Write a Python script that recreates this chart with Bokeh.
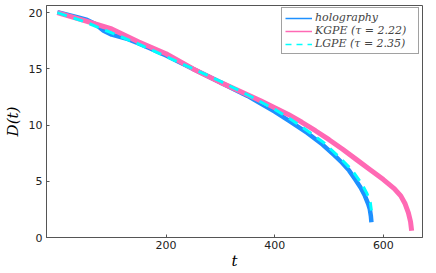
from bokeh.plotting import figure
from bokeh.models import Range1d, Legend, LegendItem, FixedTicker
from bokeh.embed import file_html
from bokeh.resources import INLINE
import math

# holography
holo_t = [0, 20, 40, 55, 70, 85, 100, 115, 130, 145, 170, 200, 250, 300, 350, 368, 400, 428, 460, 488, 510, 524, 537, 548, 558, 566, 572, 575, 577, 578]
holo_d = [20.05, 19.8, 19.55, 19.35, 19.0, 18.4, 18.05, 17.85, 17.65, 17.35, 16.85, 16.2, 15.0, 13.8, 12.6, 12.1, 11.2, 10.33, 9.3, 8.27, 7.3, 6.65, 5.95, 5.18, 4.45, 3.71, 3.0, 2.53, 1.9, 1.36]
# KGPE (tau = 2.22)
kg_t = [0, 50, 100, 150, 200, 250, 300, 350, 375, 400, 425, 450, 475, 500, 525, 550, 575, 600, 620, 632, 640, 646, 650, 652]
kg_d = [20.0, 19.3, 18.55, 17.4, 16.35, 15.0, 13.8, 12.7, 12.15, 11.55, 10.95, 10.25, 9.5, 8.7, 7.85, 6.95, 6.05, 5.15, 4.35, 3.7, 3.0, 2.2, 1.4, 0.6]
# LGPE (tau = 2.35)
lg_t = [0, 50, 100, 150, 200, 250, 300, 350, 400, 430, 460, 490, 520, 542, 560, 570, 576, 578]
lg_d = [20.0, 19.2, 18.2, 17.2, 16.1, 15.0, 13.9, 12.7, 11.4, 10.5, 9.5, 8.45, 7.1, 6.0, 4.8, 3.9, 3.1, 2.4]

labels = ["holography", "KGPE (\u03c4 = 2.22)", "LGPE (\u03c4 = 2.35)"]
x_ticks = [200, 400, 600]
y_ticks = [0, 5, 10, 15, 20]

BLUE = "#1E90FF"
PINK = "#FF69B4"
CYAN = "#00FFFF"

p = figure(width=424, height=272, output_backend="svg", toolbar_location=None,
           x_range=Range1d(-20, 672), y_range=Range1d(0, 20.64),
           min_border_left=37, min_border_right=2, min_border_top=5, min_border_bottom=30)

p.line(holo_t, holo_d, line_color=BLUE, line_width=4.5)
p.line(kg_t, kg_d, line_color=PINK, line_width=5)
p.line(lg_t, lg_d, line_color=CYAN, line_width=3, line_dash="10 7")

nan = [math.nan]
r1 = p.line(nan, nan, line_color=BLUE, line_width=1.5)
r2 = p.line(nan, nan, line_color=PINK, line_width=1.5)
r3 = p.line(nan, nan, line_color=CYAN, line_width=1.5, line_dash="6 5")

legend = Legend(items=[LegendItem(label=labels[0], renderers=[r1]),
                       LegendItem(label=labels[1], renderers=[r2]),
                       LegendItem(label=labels[2], renderers=[r3])],
                location=(235, 183))
legend.label_text_font = "DejaVu Serif"
legend.label_text_font_style = "italic"
legend.label_text_font_size = "11px"
legend.label_height = 10
legend.label_width = 100
legend.glyph_height = 10
legend.glyph_width = 27
legend.spacing = 0
legend.padding = 3
legend.margin = 0
legend.label_standoff = 3
legend.border_line_color = "#444444"
legend.border_line_width = 1
legend.background_fill_alpha = 1.0
p.add_layout(legend, "center")

p.xgrid.visible = False
p.ygrid.visible = False
p.outline_line_color = "#555555"
p.outline_line_width = 1

for ax in (p.xaxis[0], p.yaxis[0]):
    ax.axis_line_color = "#555555"
    ax.major_tick_in = 3
    ax.major_tick_out = 0
    ax.minor_tick_line_color = None
    ax.major_tick_line_color = "#555555"
    ax.major_label_text_font = "DejaVu Sans"
    ax.major_label_text_font_size = "11px"
    ax.major_label_text_color = "#222222"
    ax.axis_label_text_font = "DejaVu Serif"
    ax.axis_label_text_font_style = "italic"
    ax.axis_label_text_font_size = "15px"
    ax.axis_label_text_color = "#000000"

p.xaxis.ticker = FixedTicker(ticks=x_ticks)
p.yaxis.ticker = FixedTicker(ticks=y_ticks)
p.xaxis.axis_label = "t"
p.yaxis.axis_label = "D(t)"
p.xaxis.major_label_standoff = 3
p.xaxis.axis_label_standoff = 0
p.yaxis.major_label_standoff = 4
p.yaxis.axis_label_standoff = 4

open("out.html", "w").write(file_html(p, INLINE))
